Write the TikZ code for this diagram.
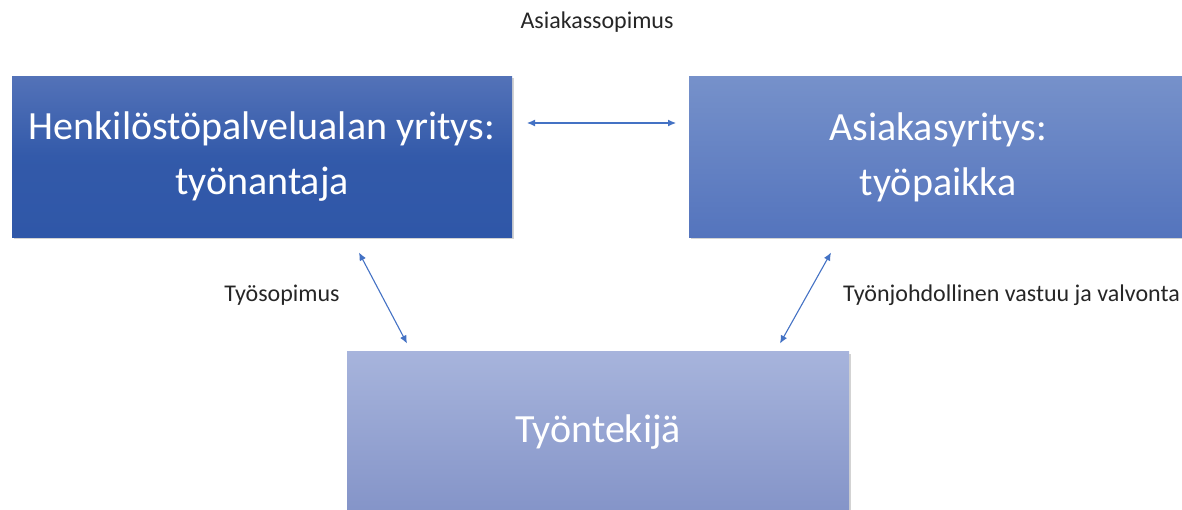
\documentclass[tikz,border=0pt]{standalone}
\usepackage{fontspec}
\setmainfont{Carlito}
\usetikzlibrary{arrows.meta, calc, shadows}
\definecolor{darkbox}{RGB}{47, 87, 168}
\definecolor{darkboxtop}{RGB}{83, 114, 184}
\definecolor{midbox}{RGB}{84, 116, 189}
\definecolor{midboxtop}{RGB}{118, 145, 202}
\definecolor{lightbox}{RGB}{132, 148, 200}
\definecolor{lightboxtop}{RGB}{167, 180, 220}
\definecolor{arrowblue}{RGB}{68, 114, 196}
\definecolor{tagtext}{RGB}{38, 38, 38}
\tikzset{
  party/.style={draw=none, outer sep=0, inner sep=0,
    minimum width=500, minimum height=161, align=center,
    text=white, font=\fontsize{40}{55}\selectfont,
    drop shadow={shadow xshift=1.5pt, shadow yshift=-2pt, opacity=0.35}},
  link/.style={draw=arrowblue, line width=1.1pt, {Latex[length=8pt,width=7pt]}-{Latex[length=8pt,width=7pt]}},
  tag/.style={font=\fontsize{24}{27}\selectfont, inner sep=0, text=tagtext}
}

\begin{document}
\begin{tikzpicture}[x=1pt, y=-1pt]

\useasboundingbox (0,0) rectangle (1182,510);

%%% the three parties
\node[party, top color=darkboxtop, bottom color=darkbox, middle color=darkbox!90!darkboxtop] (hen) at (262,157)
  {Henkilöstöpalvelualan yritys:\\työnantaja};
\node[party, minimum width=498, top color=midboxtop, bottom color=midbox] (asi) at (938,157)
  {Asiakasyritys:\\työpaikka};
\node[party, minimum width=502, top color=lightboxtop, bottom color=lightbox] (tyo) at (598,432)
  {Työntekijä};

%%% agreements
\draw[link] ($(hen.east)+(15,-34)$) -- ($(asi.west)+(-13,-34)$);
\draw[link] ($(hen.south west)+(347,15)$) -- ($(tyo.north west)+(60,-8)$);
\draw[link] ($(asi.south west)+(142,15)$) -- ($(tyo.north east)+(-69,-8)$);

\node[tag] (sop1) at (597,22) {Asiakassopimus};
\node[tag] (sop2) at (282,295) {Työsopimus};
\node[tag, anchor=west] (sop3) at (843,295) {Työnjohdollinen vastuu ja valvonta};

\end{tikzpicture}
\end{document}
